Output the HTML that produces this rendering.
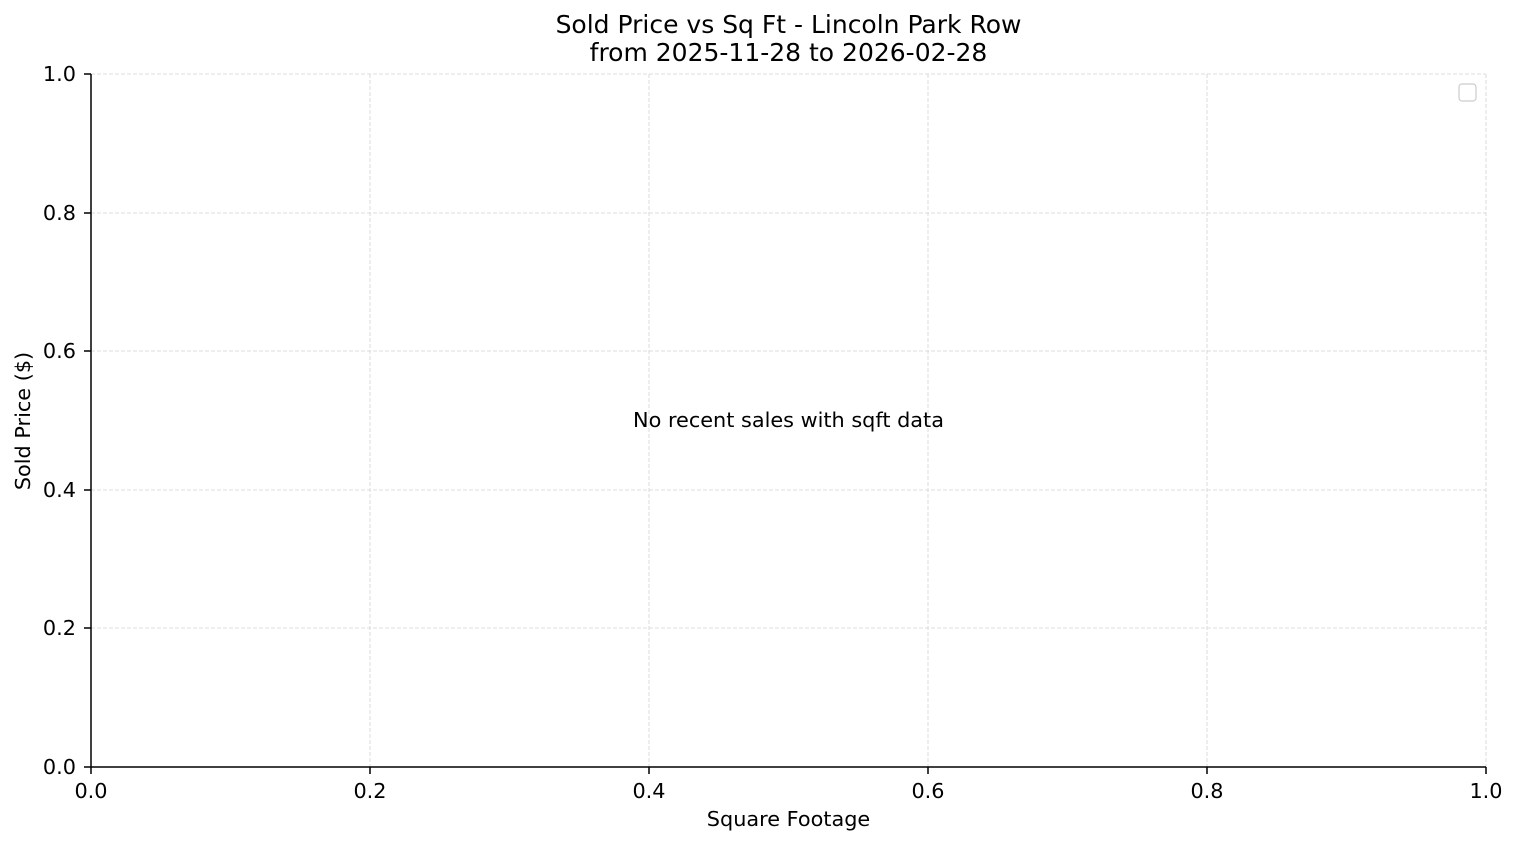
<!DOCTYPE html>
<html><head><meta charset="utf-8"><style>
html,body{margin:0;padding:0;background:#fff;}
svg{display:block;font-family:"DejaVu Sans","Liberation Sans",sans-serif;}
</style></head><body>
<svg width="1517" height="845" viewBox="0 0 1517 845" xmlns="http://www.w3.org/2000/svg">
<rect width="1517" height="845" fill="#fff"/>
<g stroke="#d3d3d3" stroke-width="0.8" stroke-dasharray="4,2">
<line x1="370" y1="74" x2="370" y2="767"/>
<line x1="649" y1="74" x2="649" y2="767"/>
<line x1="928" y1="74" x2="928" y2="767"/>
<line x1="1207" y1="74" x2="1207" y2="767"/>
<line x1="1486" y1="74" x2="1486" y2="767"/>
<line x1="91" y1="74" x2="1486" y2="74"/>
<line x1="91" y1="213" x2="1486" y2="213"/>
<line x1="91" y1="351" x2="1486" y2="351"/>
<line x1="91" y1="490" x2="1486" y2="490"/>
<line x1="91" y1="628" x2="1486" y2="628"/>
</g>
<g stroke="#000" stroke-width="1.5">
<line x1="91" y1="74" x2="91" y2="767.5"/>
<line x1="90.5" y1="767" x2="1486" y2="767"/>
<line x1="91" y1="767" x2="91" y2="774"/>
<line x1="370" y1="767" x2="370" y2="774"/>
<line x1="649" y1="767" x2="649" y2="774"/>
<line x1="928" y1="767" x2="928" y2="774"/>
<line x1="1207" y1="767" x2="1207" y2="774"/>
<line x1="1486" y1="767" x2="1486" y2="774"/>
<line x1="84" y1="74" x2="91" y2="74"/>
<line x1="84" y1="213" x2="91" y2="213"/>
<line x1="84" y1="351" x2="91" y2="351"/>
<line x1="84" y1="490" x2="91" y2="490"/>
<line x1="84" y1="628" x2="91" y2="628"/>
<line x1="84" y1="767" x2="91" y2="767"/>
</g>
<g font-size="20.8" fill="#000" text-anchor="middle">
<text x="91" y="798">0.0</text>
<text x="370" y="798">0.2</text>
<text x="649" y="798">0.4</text>
<text x="928" y="798">0.6</text>
<text x="1207" y="798">0.8</text>
<text x="1486" y="798">1.0</text>
</g>
<g font-size="20.8" fill="#000" text-anchor="end">
<text x="76" y="81">1.0</text>
<text x="76" y="220">0.8</text>
<text x="76" y="358">0.6</text>
<text x="76" y="497">0.4</text>
<text x="76" y="635">0.2</text>
<text x="76" y="774">0.0</text>
</g>
<text x="788.5" y="826" font-size="20.8" text-anchor="middle">Square Footage</text>
<text transform="translate(30,421) rotate(-90)" font-size="20.8" text-anchor="middle">Sold Price ($)</text>
<text x="788.5" y="33" font-size="25" text-anchor="middle">Sold Price vs Sq Ft - Lincoln Park Row</text>
<text x="788.5" y="61" font-size="25" text-anchor="middle">from 2025-11-28 to 2026-02-28</text>
<text x="788.5" y="427" font-size="20.8" text-anchor="middle">No recent sales with sqft data</text>
<rect x="1459" y="84" width="17" height="17" rx="3" fill="#fff" stroke="#ccc" stroke-width="1.2"/>
</svg>
</body></html>
